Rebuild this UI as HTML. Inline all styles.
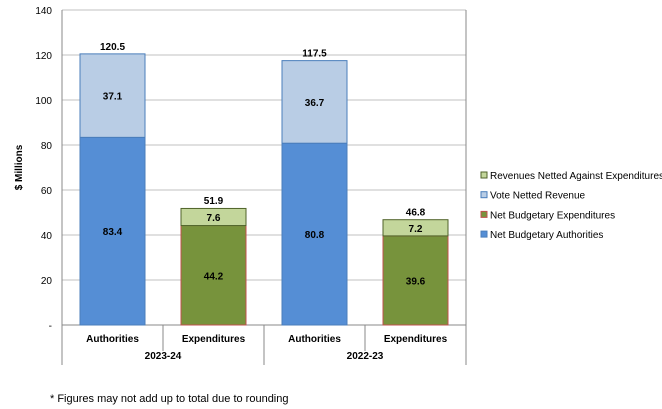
<!DOCTYPE html>
<html><head><meta charset="utf-8"><style>
body{margin:0;background:#fff;}
svg{display:block;font-family:"Liberation Sans",Arial,sans-serif;}
</style></head><body>
<svg id="c" width="662" height="409"></svg>
<script>
const categories=["Authorities","Expenditures","Authorities","Expenditures"];
const groups=["2023-24","2022-23"];
const netAuth=[83.4,null,80.8,null];
const voteNetted=[37.1,null,36.7,null];
const netExp=[null,44.2,null,39.6];
const revNetted=[null,7.6,null,7.2];
const totals=[120.5,51.9,117.5,46.8];
const yTicks=[0,20,40,60,80,100,120,140];
const yTickLabels=["-","20","40","60","80","100","120","140"];
const NS="http://www.w3.org/2000/svg";
const svg=document.getElementById('c');
const x0=62,x1=466,yTop=10,yBot=325,yMax=140;
const y=v=>yBot-v/yMax*(yBot-yTop);
const bw=(x1-x0)/categories.length;
function mk(t,a,p){const e=document.createElementNS(NS,t);for(const k in a)e.setAttribute(k,a[k]);(p||svg).appendChild(e);return e;}
yTicks.forEach((t,i)=>{
 if(t>0){const g=mk('line',{x1:x0,x2:x1,y1:y(t),y2:y(t),stroke:'#c0c0c0','stroke-width':1});
 
 }
 const l=mk('text',{x:x0-10,y:y(t)+4,'text-anchor':'end','font-size':10,fill:'#000'});l.textContent=yTickLabels[i];
 
 
});
const yt=mk('text',{x:22,y:(yTop+yBot)/2,'text-anchor':'middle','font-size':10,'font-weight':'bold',transform:`rotate(-90 22 ${(yTop+yBot)/2})`});yt.textContent='$ Millions';


mk('line',{x1:x0,x2:x0,y1:yTop,y2:365,stroke:'#888'});
mk('line',{x1:x1,x2:x1,y1:yTop,y2:365,stroke:'#888'});
mk('line',{x1:x0,x2:x1,y1:yBot,y2:yBot,stroke:'#888'});
mk('line',{x1:(x0+x1)/2,x2:(x0+x1)/2,y1:yBot,y2:365,stroke:'#888'});
for(let i=1;i<categories.length;i+=2){mk('line',{x1:x0+bw*i,x2:x0+bw*i,y1:yBot,y2:351,stroke:'#888'});}
function seg(i,v0,v1,fill,stroke,lab,name){
 const cx=x0+bw*(i+0.5),w=65;
 const r=mk('rect',{x:cx-w/2,y:y(v0+v1),width:w,height:y(v0)-y(v0+v1),fill:fill,stroke:stroke,'stroke-width':1});
 
 
 const t=mk('text',{x:cx,y:(y(v0)+y(v0+v1))/2+4,'text-anchor':'middle','font-size':10,'font-weight':'bold'});t.textContent=lab.toFixed(1);
 
 
}
categories.forEach((c,i)=>{
 const cx=x0+bw*(i+0.5);
 if(netAuth[i]!=null){seg(i,0,netAuth[i],'#558ED5','#4a7ebb',netAuth[i],'bar-net-budgetary-authorities');seg(i,netAuth[i],voteNetted[i],'#B9CDE5','#4a7ebb',voteNetted[i],'bar-vote-netted-revenue');}
 if(netExp[i]!=null){seg(i,0,netExp[i],'#77933C','#c0504d',netExp[i],'bar-net-budgetary-expenditures');seg(i,netExp[i],revNetted[i],'#C3D69B','#4f6228',revNetted[i],'bar-revenues-netted');}
 const tt=mk('text',{x:cx,y:y(totals[i])-4,'text-anchor':'middle','font-size':10,'font-weight':'bold'});tt.textContent=totals[i].toFixed(1);
 
 
 const cl=mk('text',{x:cx,y:342,'text-anchor':'middle','font-size':10,'font-weight':'bold'});cl.textContent=c;
 
 
});
groups.forEach((g,j)=>{
 const t=mk('text',{x:x0+bw*(2*j+1),y:359,'text-anchor':'middle','font-size':10,'font-weight':'bold'});t.textContent=g;
 
 
});
const leg=[["Revenues Netted Against Expenditures",'#C3D69B','#4f6228'],["Vote Netted Revenue",'#B9CDE5','#4a7ebb'],["Net Budgetary Expenditures",'#77933C','#c0504d'],["Net Budgetary Authorities",'#558ED5','#4a7ebb']];
leg.forEach((l,i)=>{
 const yy=176+i*19.7;
 const r=mk('rect',{x:481,y:yy-4,width:6,height:6,fill:l[1],stroke:l[2]});
 
 
 const t=mk('text',{x:490,y:yy+3,'font-size':10});t.textContent=l[0];
 
 
});
const fn=mk('text',{x:50,y:402,'font-size':11});fn.textContent='* Figures may not add up to total due to rounding';


</script>
</body></html>
